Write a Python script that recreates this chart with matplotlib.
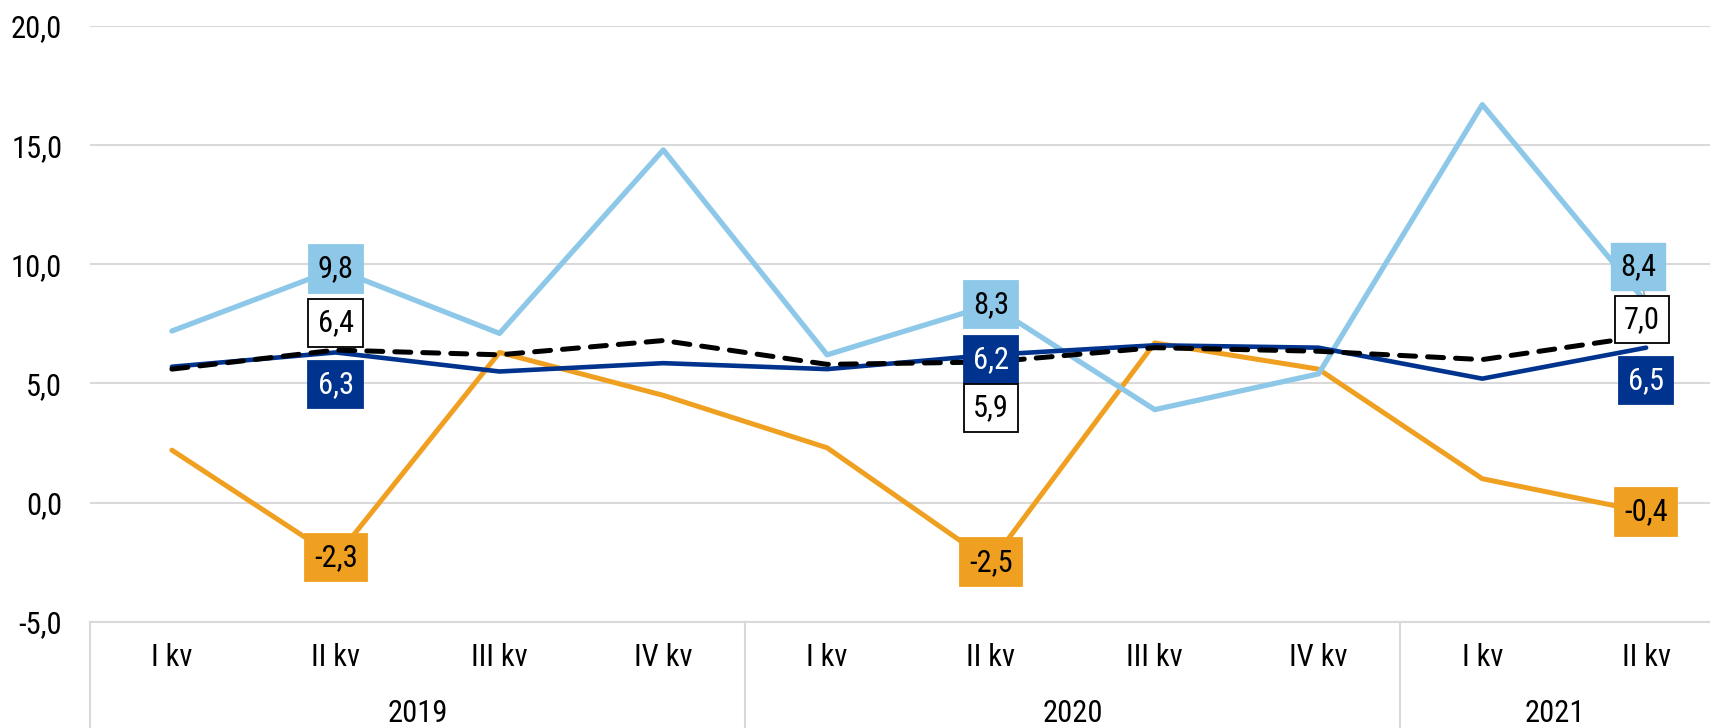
import matplotlib
matplotlib.use('Agg')
import matplotlib.pyplot as plt
import matplotlib.transforms as mtransforms
from matplotlib import font_manager

# Pick a narrow font if one is installed
names = {f.name for f in font_manager.fontManager.ttflist}
font = 'Roboto'
for cand in ['Roboto Condensed', 'Liberation Sans Narrow', 'Roboto']:
    if cand in names:
        font = cand
        break
plt.rcParams['font.family'] = [font, 'DejaVu Sans']

# --- data ---
quarters = ['I kv', 'II kv', 'III kv', 'IV kv', 'I kv', 'II kv', 'III kv', 'IV kv', 'I kv', 'II kv']
years = ['2019', '2020', '2021']
year_sizes = [4, 4, 2]

light_blue = [7.2, 9.8, 7.1, 14.8, 6.2, 8.3, 3.9, 5.4, 16.7, 8.4]
dark_blue = [5.7, 6.3, 5.5, 5.85, 5.6, 6.2, 6.6, 6.5, 5.2, 6.5]
orange = [2.2, -2.3, 6.3, 4.5, 2.3, -2.5, 6.7, 5.6, 1.0, -0.4]
dashed = [5.6, 6.4, 6.2, 6.8, 5.8, 5.9, 6.5, 6.35, 6.0, 7.0]

C_LIGHT = '#8ec8e8'
C_DARK = '#00338d'
C_ORANGE = '#f0a021'
FS = 22

W, H = 1710, 728
fig = plt.figure(figsize=(W / 100, H / 100), dpi=100)
left, right = 90, 1728
top, bottom = 26, 621.7
ax = fig.add_axes([left / W, 1 - bottom / H, (right - left) / W, (bottom - top) / H])

x = list(range(len(quarters)))

ax.plot(x, orange, color=C_ORANGE, lw=3.6, zorder=3, solid_capstyle='round')
ax.plot(x, light_blue, color=C_LIGHT, lw=3.8, zorder=4, solid_capstyle='round')
ax.plot(x, dark_blue, color=C_DARK, lw=3.3, zorder=5, solid_capstyle='round')
ax.plot(x, dashed, color='black', lw=3.6, zorder=6, dashes=(3.2, 2.4),
        dash_capstyle='round')

ax.set_xlim(-0.5, len(quarters) - 0.5)
ax.set_ylim(-5, 20)
ax.set_yticks([-5, 0, 5, 10, 15, 20])
ax.set_yticklabels([f'{v:.1f}'.replace('.', ',') for v in [-5, 0, 5, 10, 15, 20]])
ax.tick_params(axis='y', length=0, pad=20, labelsize=FS)
ax.set_xticks([])
ax.grid(axis='y', color='#d9d9d9', lw=1.5)
ax.set_axisbelow(True)
for s in ['top', 'right', 'left']:
    ax.spines[s].set_visible(False)
ax.spines['bottom'].set_color('#d9d9d9')
ax.spines['bottom'].set_linewidth(1.5)

# --- multi-level category axis ---
trans = mtransforms.blended_transform_factory(ax.transData, ax.transAxes)
ax_h = bottom - top
q_y = -(658 - bottom) / ax_h
y_y = -(713 - bottom) / ax_h
for i, q in enumerate(quarters):
    ax.text(i, q_y, q, transform=trans, ha='center', va='center', fontsize=FS)

# visible right edge of the figure in data units
vis_right = -0.5 + (W - left) / (right - left) * len(quarters)
start = -0.5
for yr, n in zip(years, year_sizes):
    end = start + n
    ax.plot([start, start], [0, -0.25], transform=trans, color='#d9d9d9',
            lw=1.5, clip_on=False)
    mid = (start + min(end, vis_right)) / 2
    ax.text(mid, y_y, yr, transform=trans, ha='center', va='center', fontsize=FS)
    start = end


def fmt(v):
    return f'{v:.1f}'.replace('.', ',')


BOX = 'square,pad=0.3'


def label(i, series, face, tcolor, dy=0, edge=None, z=10):
    ax.annotate(fmt(series[i]), (i, series[i]), xytext=(0, -dy),
                textcoords='offset pixels', ha='center', va='center',
                fontsize=FS, color=tcolor, zorder=z,
                bbox=dict(boxstyle=BOX, fc=face,
                          ec=edge if edge else face, lw=1.3))


# labels at the II kv positions
label(1, light_blue, C_LIGHT, 'black')
label(1, dashed, 'white', 'black', dy=-27, edge='black')
label(1, dark_blue, C_DARK, 'white', dy=32)
label(1, orange, C_ORANGE, 'black')

label(5, light_blue, C_LIGHT, 'black')
label(5, dark_blue, C_DARK, 'white', dy=5)
label(5, dashed, 'white', 'black', dy=46, edge='black')
label(5, orange, C_ORANGE, 'black')

# last point: light blue label lifted with a leader line
ax.annotate(fmt(light_blue[9]), (9, light_blue[9]), xytext=(-8, 36),
            textcoords='offset pixels', ha='center', va='center',
            fontsize=FS, color='black', zorder=10,
            bbox=dict(boxstyle=BOX, fc=C_LIGHT, ec=C_LIGHT),
            arrowprops=dict(arrowstyle='-', color='#a6a6a6', lw=1.2,
                            shrinkA=0, shrinkB=0))
ax.annotate(fmt(dashed[9]), (9, dashed[9]), xytext=(-4, 16),
            textcoords='offset pixels', ha='center', va='center',
            fontsize=FS, color='black', zorder=11,
            bbox=dict(boxstyle=BOX, fc='white', ec='black', lw=1.3))
label(9, dark_blue, C_DARK, 'white', dy=33)
label(9, orange, C_ORANGE, 'black')

fig.savefig('out.png', dpi=100)
